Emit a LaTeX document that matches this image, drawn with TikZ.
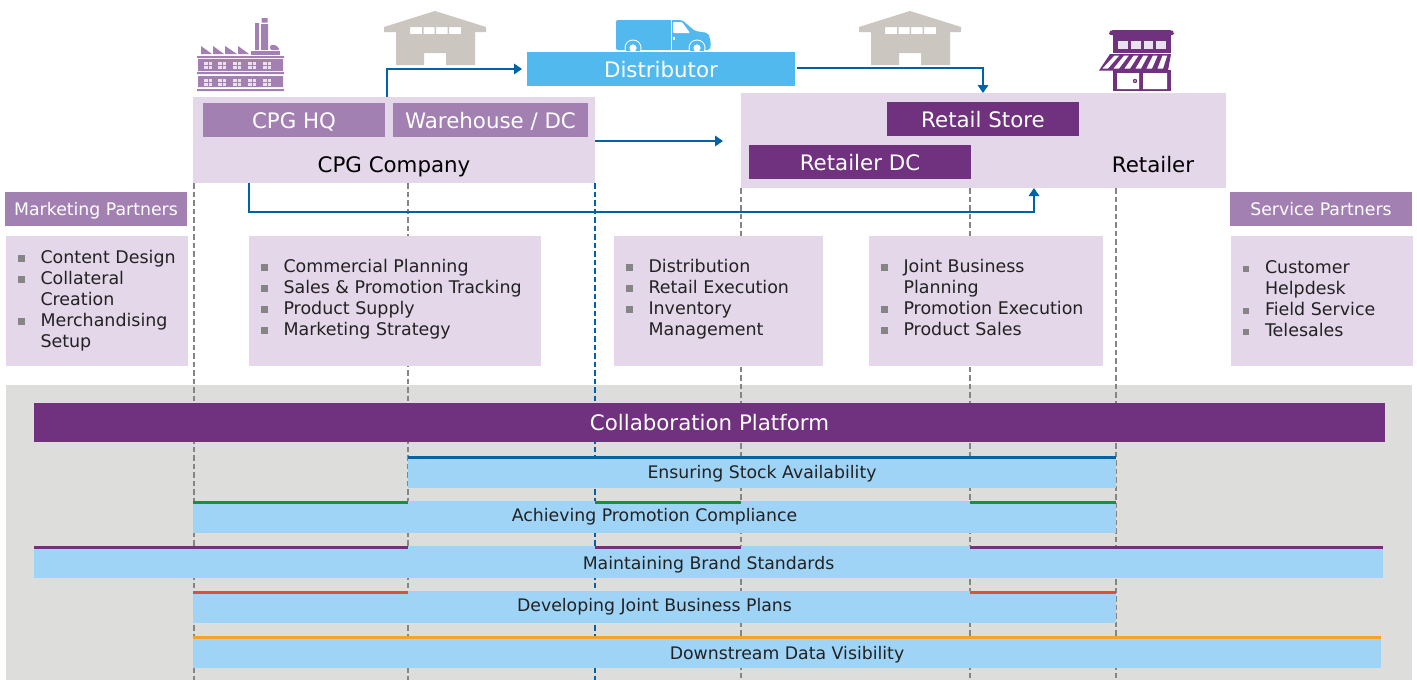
\documentclass[tikz,border=0pt]{standalone}
\usepackage{fontspec}
\setmainfont{DejaVu Sans}
\usetikzlibrary{arrows.meta}
\definecolor{lil}{HTML}{E3D7E9}
\definecolor{midp}{HTML}{A380B2}
\definecolor{darkp}{HTML}{70317F}
\definecolor{sky}{HTML}{52B9EE}
\definecolor{pale}{HTML}{A0D4F6}
\definecolor{panel}{HTML}{DDDDDC}
\definecolor{flow}{HTML}{0063A7}
\definecolor{dashg}{HTML}{858585}
\definecolor{wh}{HTML}{CCC6C0}
\definecolor{ink}{HTML}{222222}
\definecolor{gbar}{HTML}{08963F}
\definecolor{rbar}{HTML}{DB5238}
\definecolor{obar}{HTML}{F5A32E}
\definecolor{pane}{HTML}{E9E1EE}
\tikzset{
  flat/.style={inner sep=0pt,outer sep=0pt,anchor=north west,align=center,text height=13.1pt,text depth=0pt},
  big/.style={font=\fontsize{21.35}{26}\selectfont,text height=16.3pt,text depth=0pt},
  lilbox/.style={flat,fill=lil,text=black},
  midbox/.style={flat,fill=midp,text=white},
  darkbox/.style={flat,fill=darkp,text=white},
  skybox/.style={flat,fill=sky,text=white},
  bar/.style={flat,fill=pale,text=ink},
  flowline/.style={draw=flow,line width=1.8pt,-{Triangle[length=8pt,width=10.5pt]}},
  guide/.style={draw=dashg,line width=2.4pt,dash pattern=on 5.5pt off 3pt},
  guideb/.style={draw=flow,line width=2.4pt,dash pattern=on 5.5pt off 3pt},
  accent/.style={line width=3pt},
  bul/.style={inner sep=0pt,outer sep=0pt,anchor=north west,align=left,text=ink,font=\fontsize{17.45}{21}\selectfont},
}
\newcommand{\bx}[7]{\node[#6,minimum width=#4pt-#2pt,minimum height=#5pt-#3pt] (#1) at (#2,#3) {#7};}
\newcommand{\blist}[4]{\node[bul] (#1) at (#2,#3) {#4};}
\newcommand{\itm}{\makebox[22.5pt][l]{\textcolor{dashg}{\rule[1.5pt]{6.5pt}{6.5pt}}}}
\newcommand{\cnt}{\hspace*{22.5pt}}
\newcommand{\warehouse}[2]{\begin{scope}[shift={(#1,#2)}]
 \fill[wh,even odd rule] (0,16) -- (51,0) -- (102,16) -- (102,21) -- (91,21) -- (91,54) -- (62,54) -- (62,42) -- (40,42) -- (40,54) -- (12,54) -- (12,21) -- (0,21) -- cycle
 (26,16) rectangle (38,23) (39.5,16) rectangle (50.5,23) (52,16) rectangle (63.5,23) (65,16) rectangle (77,23);
\end{scope}}
\begin{document}
\begin{tikzpicture}[x=1pt,y=-1pt,font=\fontsize{17.3}{21}\selectfont]
\useasboundingbox (0,0) rectangle (1417,680);
\fill[white] (0,0) rectangle (1417,680);
\fill[panel] (6,385) rectangle (1412,680);
% guides
\coordinate (g1t) at (194,183); \coordinate (g1b) at (194,680);
\coordinate (g2t) at (408,183); \coordinate (g2b) at (408,680);
\coordinate (g3t) at (595,183); \coordinate (g3b) at (595,680);
\coordinate (g4t) at (741,188); \coordinate (g4b) at (741,680);
\coordinate (g5t) at (970,188); \coordinate (g5b) at (970,680);
\coordinate (g6t) at (1116,188); \coordinate (g6b) at (1116,680);
\draw[guide] (g1t)--(g1b); \draw[guide] (g2t)--(g2b); \draw[guideb] (g3t)--(g3b);
\draw[guide] (g4t)--(g4b); \draw[guide] (g5t)--(g5b); \draw[guide] (g6t)--(g6b);
% top boxes
\bx{cpg}{193}{97}{595}{183}{lilbox}{}
\node[big,anchor=base,inner sep=0pt] (cpgt) at (394,172) {CPG Company};
\bx{hq}{203}{103}{385}{137}{midbox,big}{CPG HQ}
\bx{dc}{393}{103}{588}{137}{midbox,big}{Warehouse / DC}
\bx{dist}{527}{52}{795}{86}{skybox,big}{Distributor}
\bx{ret}{741}{93}{1226}{188}{lilbox}{}
\node[big,anchor=base,inner sep=0pt] (rett) at (1153,172) {Retailer};
\bx{store}{887}{102}{1079}{136}{darkbox,big}{Retail Store}
\bx{rdc}{749}{145}{971}{179}{darkbox,big}{Retailer DC}
\bx{mp}{5}{192}{187}{226}{midbox}{Marketing Partners}
\bx{sp}{1230}{192}{1412}{226}{midbox}{Service Partners}
% list boxes
\bx{l1}{6}{236}{188}{366}{lilbox}{}
\bx{l2}{249}{236}{541}{366}{lilbox}{}
\bx{l3}{614}{236}{823}{366}{lilbox}{}
\bx{l4}{869}{236}{1103}{366}{lilbox}{}
\bx{l5}{1231}{236}{1413}{366}{lilbox}{}
\blist{t1}{18}{250}{\itm Content Design\\ \itm Collateral\\ \cnt Creation\\ \itm Merchandising\\ \cnt Setup}
\blist{t2}{261}{259}{\itm Commercial Planning\\ \itm Sales \& Promotion Tracking\\ \itm Product Supply\\ \itm Marketing Strategy}
\blist{t3}{626}{259}{\itm Distribution\\ \itm Retail Execution\\ \itm Inventory\\ \cnt Management}
\blist{t4}{881}{259}{\itm Joint Business\\ \cnt Planning\\ \itm Promotion Execution\\ \itm Product Sales}
\blist{t5}{1242.5}{261}{\itm Customer\\ \cnt Helpdesk\\ \itm Field Service\\ \itm Telesales}
% flows
\coordinate (a1) at (387,97);
\draw[flowline,shorten >=5pt] (a1) |- (dist.west);
\coordinate (b1) at (983,93);
\draw[flowline,shorten <=2pt] ([yshift=1pt]dist.east) -| (b1);
\coordinate (c1) at (723,141);
\coordinate (c0) at (595,141);
\draw[flowline] (c0) -- (c1);
\coordinate (d0) at (249,183); \coordinate (d1) at (1034,188);
\draw[flowline] (d0) |- (1034,212) -- (d1);
% platform
\bx{plat}{34}{403}{1385}{442}{darkbox,big}{Collaboration Platform}
\bx{b1x}{408}{457}{1116}{488}{bar}{\raisebox{1pt}{Ensuring Stock Availability}}
\bx{b2x}{193}{501}{1116}{533}{bar}{\raisebox{2.5pt}{Achieving Promotion Compliance}}
\bx{b3x}{34}{546}{1383}{578}{bar}{\raisebox{-1pt}{Maintaining Brand Standards}}
\bx{b4x}{193}{591}{1116}{623}{bar}{\raisebox{1.6pt}{Developing Joint Business Plans}}
\bx{b5x}{193}{636}{1381}{668}{bar}{\raisebox{-1pt}{Downstream Data Visibility}}
\draw[accent,flow] (408,457.5)--(1116,457.5);
\draw[accent,gbar] (193,502.5)--(408,502.5) (595,502.5)--(741,502.5) (970,502.5)--(1116,502.5);
\draw[accent,darkp] (34,547.5)--(408,547.5) (595,547.5)--(741,547.5) (970,547.5)--(1383,547.5);
\draw[accent,rbar] (193,592.5)--(408,592.5) (970,592.5)--(1116,592.5);
\draw[accent,obar] (193,637.5)--(1381,637.5);
% factory
\fill[midp] (201,54)--(201,46)--(212,54)--cycle (213,54)--(213,46)--(224,54)--cycle (225,54)--(225,46)--(237,54)--cycle (238,54)--(238,46)--(249,54)--cycle;
\fill[midp] (255,23) rectangle (259,50) (261.5,18) rectangle (267.5,22.5) (261,24) rectangle (268,50);
\fill[midp,rounded corners=1.5pt] (270,50) -- (270,45) -- (276,45) -- (280,50) -- cycle;
\fill[midp] (251,51) rectangle (280,55);
\fill[midp] (197,56) rectangle (284,58) (198,59) rectangle (283,71) (197,72) rectangle (284,74) (198,76) rectangle (283,87) (197,89) rectangle (284,91);
\foreach \x in {208,222,237,252,267}{\foreach \y in {65,82}{
  \fill[pane] (\x-4,\y-3.5) rectangle (\x+4,\y+3.5);
  \draw[midp,line width=.6pt] (\x,\y-3.5) -- (\x,\y+3.5) (\x-4,\y) -- (\x+4,\y);}}
\warehouse{384}{11}
\warehouse{859}{11}
% van
\fill[sky,rounded corners=2pt] (616,20) -- (616,50) -- (710,50) -- (711,42) -- (708,33) -- (695,31) -- (682,20) -- cycle;
\fill[white,rounded corners=1pt] (673,22) -- (682,22) -- (690,33) -- (673,33) -- cycle;
\draw[white,line width=.7pt] (671,20) -- (671,50);
\fill[white] (673,37) rectangle (675,39.5);
\foreach \x in {633,697}{
 \begin{scope}
  \clip (600,20) rectangle (720,50);
  \fill[white] (\x,48) circle (8.5pt);
  \fill[sky] (\x,48) circle (7.5pt);
 \end{scope}
 \fill[white] (\x,48) circle (3.6pt);}
% store
\fill[darkp,rounded corners=2pt] (1109,35) -- (1109,32) -- (1111,30) -- (1172,30) -- (1174,32) -- (1174,35) -- cycle;
\fill[darkp] (1113,35) rectangle (1171,53);
\foreach \x in {1118,1131,1143.5,1156}{\fill[pane] (\x,41) rectangle +(9.5,8);}
\fill[darkp] (1113,70) rectangle (1171,91);
\fill[white] (1117,73) rectangle (1139,89) (1143,73) rectangle (1167,89);
\fill[darkp] (1135,81) circle (2.2pt);
\fill[pane] (1135,81) circle (.9pt);
\fill[darkp] (1110,54) -- (1171,54) -- (1168,70.5) -- (1099,70.5) -- cycle;
\foreach \k in {0,...,5}{\fill[white] ({1114.5+9.6*\k},55.5) -- ({1119.3+9.6*\k},55.5) -- ({1108+11*\k},68.5) -- ({1102.5+11*\k},68.5) -- cycle;}
\end{tikzpicture}
\end{document}
